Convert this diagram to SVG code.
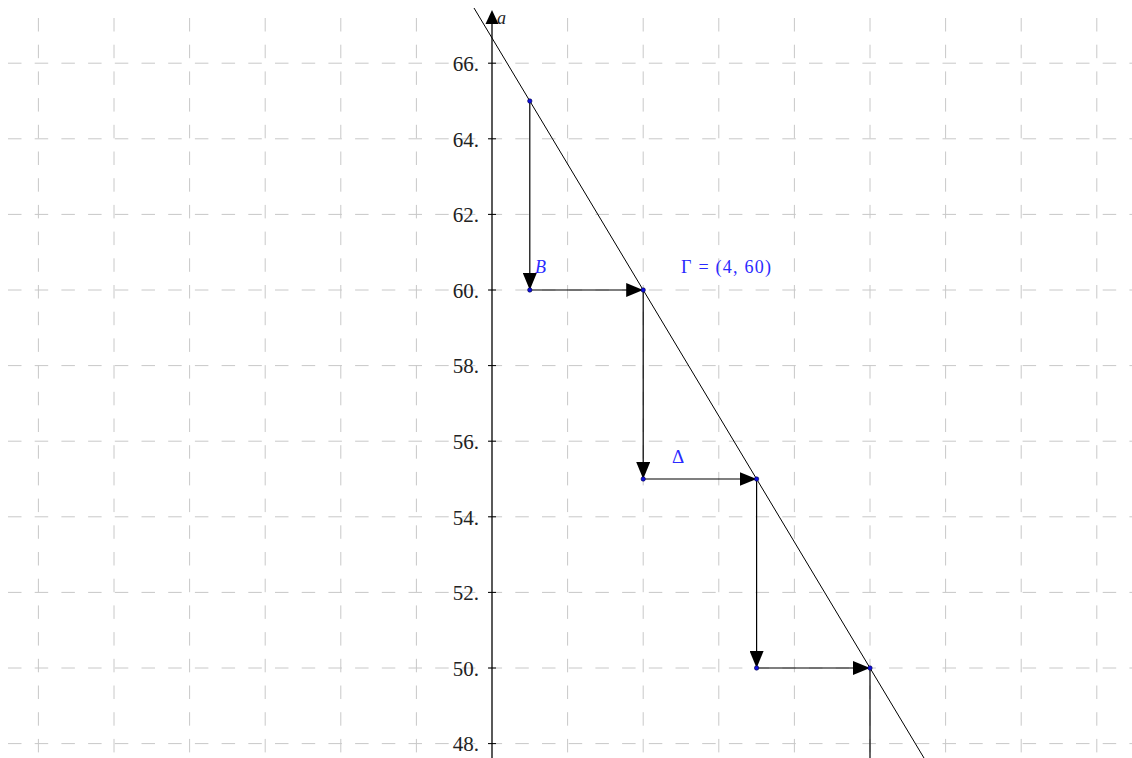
<svg xmlns="http://www.w3.org/2000/svg" width="1132" height="758" viewBox="0 0 1132 758">
<style>
.grid{stroke:#c8c8c8;stroke-width:1;stroke-dasharray:13.5 13.2;fill:none}
.seg{stroke:#000;stroke-width:1.2;fill:none}
.tick{font-family:"Liberation Serif","DejaVu Serif",serif;font-size:21px;fill:#222;text-anchor:end}
.lbl{font-family:"Liberation Serif","DejaVu Serif",serif;font-size:18px;fill:#2a2aff}
.pt{fill:#1010e0;stroke:#000040;stroke-width:0.6}
</style>
<defs>
<marker id="ah" markerWidth="17" markerHeight="14" refX="17" refY="7" orient="auto" markerUnits="userSpaceOnUse">
<path d="M0,0 L17,7 L0,14 Z" fill="#000"/>
</marker>
</defs>
<rect width="1132" height="758" fill="#fff"/>
<g id="grid">
<path class="grid" stroke-dashoffset="18.7" d="M0,63.2H1132M0,138.8H1132M0,214.4H1132M0,290H1132M0,365.6H1132M0,441.2H1132M0,516.8H1132M0,592.4H1132M0,668H1132M0,743.6H1132"/>
<path class="grid" d="M38.4,18V758M114,18V758M189.6,18V758M265.2,18V758M340.8,18V758M416.4,18V758M567.6,18V758M643.2,18V758M718.8,18V758M794.4,18V758M870,18V758M945.6,18V758M1021.2,18V758M1096.8,18V758"/>
</g>
<g id="axis">
<line x1="492" y1="758" x2="492" y2="22" stroke="#000" stroke-width="1.3"/>
<path d="M492,10 L498.5,24 L485.5,24 Z" fill="#000"/>
<text x="497" y="24" class="lbl" style="fill:#222;font-style:italic">a</text>
<path d="M488,63.2H496M488,138.8H496M488,214.4H496M488,290H496M488,365.6H496M488,441.2H496M488,516.8H496M488,592.4H496M488,668H496M488,743.6H496" stroke="#000" stroke-width="1"/>
<text class="tick" x="479" y="71">66.</text>
<text class="tick" x="479" y="147">64.</text>
<text class="tick" x="479" y="222">62.</text>
<text class="tick" x="479" y="298">60.</text>
<text class="tick" x="479" y="373">58.</text>
<text class="tick" x="479" y="449">56.</text>
<text class="tick" x="479" y="525">54.</text>
<text class="tick" x="479" y="600">52.</text>
<text class="tick" x="479" y="676">50.</text>
<text class="tick" x="479" y="751">48.</text>
</g>
<g id="connectors">
<line x1="474" y1="8" x2="924.6" y2="759" stroke="#000" stroke-width="1"/>
<line class="seg" x1="529.8" y1="101" x2="529.8" y2="290" marker-end="url(#ah)"/>
<line class="seg" x1="529.8" y1="290" x2="643.2" y2="290" marker-end="url(#ah)"/>
<line class="seg" x1="643.2" y1="290" x2="643.2" y2="479" marker-end="url(#ah)"/>
<line class="seg" x1="643.2" y1="479" x2="756.6" y2="479" marker-end="url(#ah)"/>
<line class="seg" x1="756.6" y1="479" x2="756.6" y2="668" marker-end="url(#ah)"/>
<line class="seg" x1="756.6" y1="668" x2="870" y2="668" marker-end="url(#ah)"/>
<line class="seg" x1="870" y1="668" x2="870" y2="760"/>
</g>
<g id="A"><circle class="pt" cx="529.8" cy="101" r="2.2"/></g>
<g id="B"><circle class="pt" cx="529.8" cy="290" r="2.2"/><text class="lbl" x="535" y="273" font-style="italic">B</text></g>
<g id="Gamma"><circle class="pt" cx="643.2" cy="290" r="2.2"/><text class="lbl" x="681" y="273" textLength="90" lengthAdjust="spacing">Γ = (4, 60)</text></g>
<g id="Delta"><circle class="pt" cx="643.2" cy="479" r="2.2"/><text class="lbl" x="672" y="463" style="font-size:19px">Δ</text></g>
<g id="E"><circle class="pt" cx="756.6" cy="479" r="2.2"/></g>
<g id="Z"><circle class="pt" cx="756.6" cy="668" r="2.2"/></g>
<g id="H"><circle class="pt" cx="870" cy="668" r="2.2"/></g>
</svg>
